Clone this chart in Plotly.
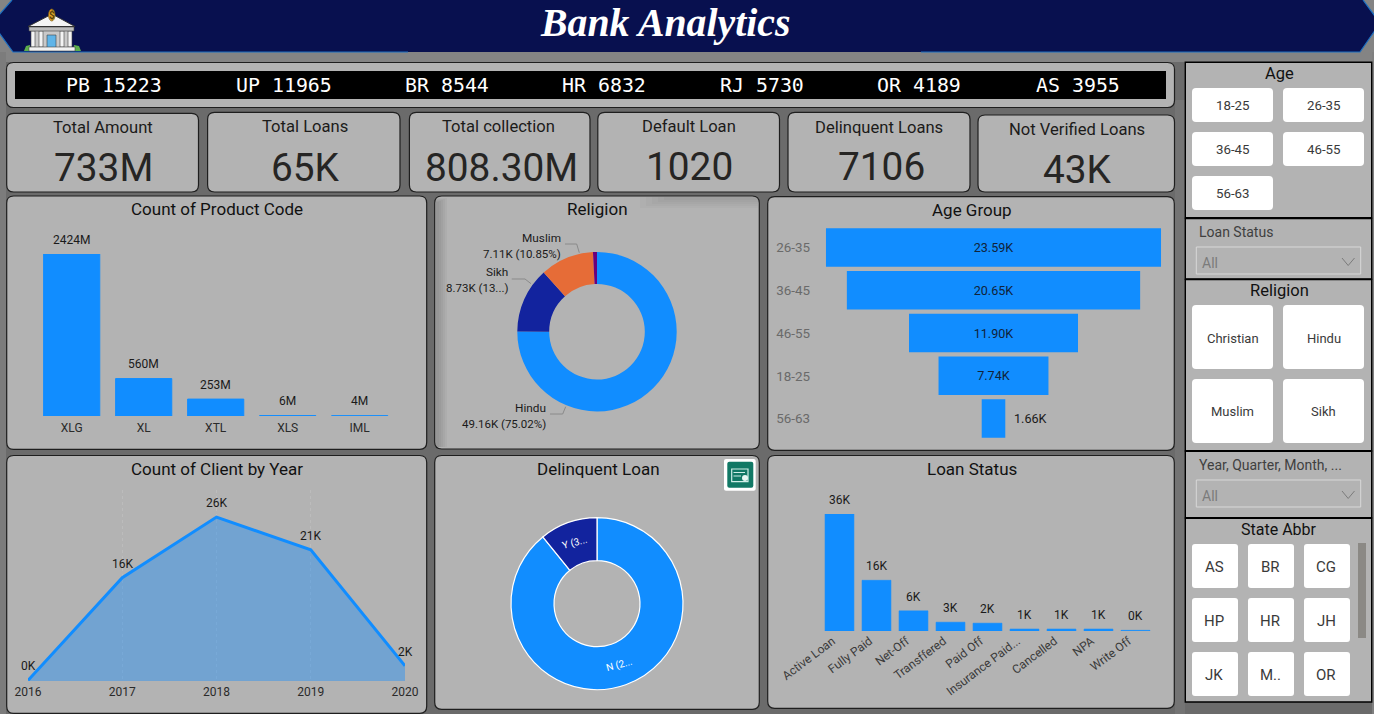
import plotly.graph_objects as go

# ---------- data ----------
ticker_states = ["PB", "UP", "BR", "HR", "RJ", "OR", "AS"]
ticker_values = [15223, 11965, 8544, 6832, 5730, 4189, 3955]
kpi_titles = ["Total Amount", "Total Loans", "Total collection", "Default Loan", "Delinquent Loans", "Not Verified Loans"]
kpi_values = ["733M", "65K", "808.30M", "1020", "7106", "43K"]
product_codes = ["XLG", "XL", "XTL", "XLS", "IML"]
product_counts = [2424, 560, 253, 6, 4]
religion_order = ["Hindu", "Sikh", "Muslim", "Christian"]
religion_counts = [49.16, 8.73, 7.11, 0.53]
religion_labels = {"Hindu": "49.16K (75.02%)", "Sikh": "8.73K (13...)", "Muslim": "7.11K (10.85%)"}
age_groups = ["26-35", "36-45", "46-55", "18-25", "56-63"]
age_counts = [23.59, 20.65, 11.90, 7.74, 1.66]
years = [2016, 2017, 2018, 2019, 2020]
year_clients = [0.1, 16.4, 26.0, 20.8, 2.4]
delinquent_flags = ["N", "Y"]
delinquent_counts = [58.42, 7.11]
delinquent_texts = ["N (2...", "Y (3..."]
status_names = ["Active Loan", "Fully Paid", "Net-Off", "Transffered", "Paid Off", "Insurance Paid...", "Cancelled", "NPA", "Write Off"]
status_counts = [36.0, 15.6, 6.2, 2.7, 2.4, 0.6, 0.6, 0.6, 0.2]
age_buttons = ["18-25", "26-35", "36-45", "46-55", "56-63"]
religion_buttons = ["Christian", "Hindu", "Muslim", "Sikh"]
state_buttons = ["AS", "BR", "CG", "HP", "HR", "JH", "JK", "M..", "OR"]

# ---------- styles and helpers ----------
W, H = 1374, 714
BLUE = "#118DFF"
NAVY = "#12239E"
ORANGE = "#E66C37"
PURPLE = "#6B007B"
CARD = "#B3B3B3"
INK = "#1C1B1A"
LABEL = "#1A1A1A"
FONT = "Roboto"


def X(p):
    return p / W


def Y(p):
    return 1 - p / H


shapes, annots = [], []


def poly(points, fill="rgba(0,0,0,0)", line=None, lw=1, close=True):
    d = "M " + " L ".join(f"{X(a):.6f},{Y(b):.6f}" for a, b in points) + (" Z" if close else "")
    shapes.append(dict(type="path", xref="paper", yref="paper", path=d, fillcolor=fill,
                       line=dict(color=line or "rgba(0,0,0,0)", width=lw if line else 0), layer="below"))


def rrect(x0, y0, x1, y1, r=6, fill=CARD, line="#1E1E1E", lw=1.2):
    c = lambda a, b: f"{X(a):.6f},{Y(b):.6f}"
    d = (f"M {c(x0 + r, y0)} L {c(x1 - r, y0)} Q {c(x1, y0)} {c(x1, y0 + r)} "
         f"L {c(x1, y1 - r)} Q {c(x1, y1)} {c(x1 - r, y1)} L {c(x0 + r, y1)} "
         f"Q {c(x0, y1)} {c(x0, y1 - r)} L {c(x0, y0 + r)} Q {c(x0, y0)} {c(x0 + r, y0)} Z")
    shapes.append(dict(type="path", xref="paper", yref="paper", path=d, fillcolor=fill,
                       line=dict(color=line or "rgba(0,0,0,0)", width=lw if line else 0), layer="below"))


def rect(x0, y0, x1, y1, fill, line=None, lw=1):
    shapes.append(dict(type="rect", xref="paper", yref="paper", x0=X(x0), x1=X(x1), y0=Y(y0), y1=Y(y1),
                       fillcolor=fill, line=dict(color=line or "rgba(0,0,0,0)", width=lw if line else 0),
                       layer="below"))


def circle(cx, cy, r, fill):
    shapes.append(dict(type="circle", xref="paper", yref="paper", x0=X(cx - r), x1=X(cx + r), y0=Y(cy - r),
                       y1=Y(cy + r), fillcolor=fill, line=dict(width=0), layer="below"))


def text(x, y, s, size=16, color=INK, anchor="center", family=FONT, weight=400, angle=0):
    annots.append(dict(x=X(x), y=Y(y), xref="paper", yref="paper", text=s, showarrow=False, xanchor=anchor,
                       yanchor="middle", textangle=angle, borderpad=0, borderwidth=0,
                       font=dict(size=size, color=color, family=family, weight=weight)))


def data_label(xref, yref, x, y, s, yshift=14, xshift=0, anchor="center", size=12):
    annots.append(dict(x=x, y=y, xref=xref, yref=yref, text=s, showarrow=False, xanchor=anchor, yanchor="middle",
                       yshift=yshift, xshift=xshift, borderpad=0, borderwidth=0,
                       font=dict(size=size, color=LABEL, family=FONT)))


# ---------- page background ----------
rect(0, 0, W, 62, "#848484")
rect(0, 52, 6, H, "#7C7C7C")
rect(1372, 52, W, H, "#808080")
rect(1175, 100, 1185, H, "#747474")

# ---------- header ----------
poly([(12, 0), (-8, 23), (13, 52), (1360, 52), (1380, 23), (1363, 0)], fill="#08104F")
poly([(12, 0), (-8, 23), (13, 52), (408, 52)], fill="rgba(0,0,0,0)", line="#1B6FC2", lw=1.2, close=False)
poly([(921, 52), (1360, 52), (1380, 23), (1363, 0)], fill="rgba(0,0,0,0)", line="#1B6FC2", lw=1.2, close=False)
text(665.5, 23, "<b><i>Bank Analytics</i></b>", size=39.8, color="#FFFFFF", family="Liberation Serif")

# bank icon
poly([(24, 51), (26, 46), (30, 45), (31, 51)], fill="#5DAE4B")
poly([(73, 51), (74, 45), (79, 46), (81, 51)], fill="#5DAE4B")
rect(32, 30, 71, 49, "#C9C9C9")
for a, b in [(31, 35), (39, 43), (60, 64), (68, 72)]:
    rect(a, 31, b, 47, "#F4F4F4", line="#444444", lw=0.6)
rect(47, 35, 56, 49, "#5FB4E8", line="#444444", lw=0.6)
rect(29, 47, 75, 51, "#F2F2F2", line="#444444", lw=0.6)
rect(29, 27, 74, 31, "#BDBDBD", line="#444444", lw=0.6)
poly([(28, 26.5), (52, 14), (75, 26.5)], fill="#F4F4F4", line="#333333", lw=1)
shapes.append(dict(type="circle", xref="paper", yref="paper", x0=X(48.5), x1=X(55), y0=Y(21), y1=Y(9),
                   fillcolor="#E3A82B", line=dict(color="#7A5A12", width=0.7), layer="below"))
text(51.7, 15, "$", size=10, color="#5A420C", weight=700)

# ---------- ticker ----------
rrect(6.5, 62.5, 1174.5, 107.5, r=7)
rect(15, 71, 1166, 99, "#000000")
for cx, st, val in zip([114, 284, 447, 604, 762, 919, 1078], ticker_states, ticker_values):
    text(cx, 85, f"{st} {val}", size=19.9, color="#FFFFFF", family="DejaVu Sans Mono")

# ---------- KPI cards ----------
kpi_boxes = [(6.7, 113.3, 198.5), (207.6, 112.3, 400), (409.4, 112.3, 590), (597.8, 112.3, 779.5),
             (788, 112.3, 970), (978, 115, 1174.5)]
kpi_title_pos = [(103, 127.5), (305, 126.5), (499, 126.5), (689, 126), (879, 127), (1077, 129)]
kpi_value_pos = [(103, 167), (305, 167), (501, 167), (689, 166), (881, 166), (1077, 169)]
for box, t, v, tp, vp in zip(kpi_boxes, kpi_titles, kpi_values, kpi_title_pos, kpi_value_pos):
    rrect(box[0], box[1], box[2], 192, r=7)
    text(tp[0], tp[1], t, size=16.6)
    text(vp[0], vp[1], v, size=38.8, color="#262524")

# ---------- chart panels ----------
panels = [
    (6.7, 196, 426.7, 449.3, "Count of Product Code", 217, 209),
    (434.7, 196, 759.3, 449, "Religion", 597, 209),
    (767.7, 196.7, 1174.3, 450.3, "Age Group", 972, 210),
    (6.7, 455.5, 426.7, 713.3, "Count of Client by Year", 217, 469),
    (434.7, 455.5, 759.3, 709.3, "Delinquent Loan", 598, 469),
    (767.7, 455.5, 1174.3, 708.3, "Loan Status", 972, 469),
]
for x0, y0, x1, y1, title, tx, ty in panels:
    rrect(x0, y0, x1, y1, r=7)
    text(tx, ty, title, size=17, color="#111111")

# soft inner shadow on the Religion card
for i in range(5):
    rect(436, 198 + i, 437 + 2 * (5 - i), 447, "rgba(0,0,0,0.03)")
    rect(640 + 6 * i, 197, 758, 198 + 2 * (5 - i), "rgba(0,0,0,0.018)")

# ---------- slicers ----------
slicer_bands = [(62.3, 217.7), (218.5, 279), (279.5, 450.7), (451.3, 517.7), (518.3, 702)]
for a, b in slicer_bands:
    rect(1185.3, a, 1371.7, b, CARD, line="#000000", lw=1.4)

text(1279, 74, "Age", size=16.5, color="#111111")
age_rects = [(1192, 88), (1283, 88), (1192, 132), (1283, 132), (1192, 176)]
for (bx, by), lab in zip(age_rects, age_buttons):
    rrect(bx, by, bx + 81, by + 34, r=4, fill="#FFFFFF", line=None)
    text(bx + 40.5, by + 17.5, lab, size=13.3, color="#3A3A3A")

text(1279, 290, "Religion", size=16.5, color="#111111")
rel_rects = [(1192, 305), (1283, 305), (1192, 379), (1283, 379)]
for (bx, by), lab in zip(rel_rects, religion_buttons):
    rrect(bx, by, bx + 81, by + 64, r=4, fill="#FFFFFF", line=None)
    text(bx + 40.5, by + 33, lab, size=13, color="#3A3A3A")

text(1279, 529, "State Abbr", size=16, color="#111111")
state_rects = [(a, b) for b in (544, 598, 652) for a in (1192, 1248, 1304)]
for (bx, by), lab in zip(state_rects, state_buttons):
    rrect(bx, by, bx + 46, by + 44, r=3, fill="#FFFFFF", line=None)
    text(bx + 22, by + 22.5, lab, size=15, color="#3A3A3A")
rect(1358, 543, 1366, 638, "#8B8985")

for ty, by, lab in [(232, 247, "Loan Status"), (465, 480, "Year, Quarter, Month, ...")]:
    text(1199, ty, lab, size=14, color="#404040", anchor="left")
    rect(1196.3, by, 1360.7, by + 27, "rgba(0,0,0,0)", line="#D8D8D8", lw=1)
    text(1202, by + 15.5, "All", size=14, color="#7B7B7B", anchor="left")
    poly([(1342, by + 11), (1348.2, by + 18.5), (1354.5, by + 11)], line="#7B7B7B", lw=1, close=False)

# ---------- traces ----------
fig = go.Figure()

# product bars
fig.add_trace(go.Bar(x=product_codes, y=product_counts, xaxis="x", yaxis="y",
                     marker=dict(color=BLUE, line=dict(color=BLUE, width=1)), cliponaxis=False))
for c, v in zip(product_codes, product_counts):
    data_label("x", "y", c, v, f"{v}M", yshift=14.5)

# age funnel
inside_text = [f"{v:.2f}K" if v > 5 else "" for v in age_counts]
fig.add_trace(go.Funnel(y=age_groups, x=age_counts, orientation="h", xaxis="x2", yaxis="y2",
                        marker=dict(color=BLUE, line=dict(width=0)), connector=dict(visible=False),
                        text=inside_text, textinfo="text", textposition="inside",
                        constraintext="none", cliponaxis=False,
                        insidetextfont=dict(size=12.6, color="#10233A", family=FONT)))
for g, v in zip(age_groups, age_counts):
    if v <= 5:
        data_label("x2", "y2", v / 2, g, f"{v:.2f}K", yshift=0, xshift=9, anchor="left", size=12.6)

# year area
fig.add_trace(go.Scatter(x=years, y=year_clients, xaxis="x3", yaxis="y3", mode="lines", cliponaxis=False,
                         line=dict(color=BLUE, width=3), fill="tozeroy", fillcolor="rgba(17,141,255,0.4)"))
for yr, v in zip(years, year_clients):
    data_label("x3", "y3", yr, v, f"{v:.0f}K", yshift=14)

# status bars
fig.add_trace(go.Bar(x=status_names, y=status_counts, xaxis="x4", yaxis="y4",
                     marker=dict(color=BLUE, line=dict(color=BLUE, width=0.6)), cliponaxis=False))
for s, v in zip(status_names, status_counts):
    data_label("x4", "y4", s, v, f"{v:.0f}K", yshift=14)


def pie_domain(cx, cy, r):
    return dict(x=[X(cx - r), X(cx + r)], y=[Y(cy + r), Y(cy - r)])


fig.add_trace(go.Pie(labels=religion_order, values=religion_counts, hole=0.6, sort=False, direction="clockwise",
                     rotation=0, textinfo="none", domain=pie_domain(597, 331.7, 79.7),
                     marker=dict(colors=[BLUE, NAVY, ORANGE, PURPLE], line=dict(width=0))))
fig.add_trace(go.Pie(labels=delinquent_flags, values=delinquent_counts, hole=0.5, sort=False, direction="clockwise",
                     rotation=0, textinfo="none", domain=pie_domain(597, 603.7, 86),
                     marker=dict(colors=[BLUE, NAVY], line=dict(color="#FFFFFF", width=1.2))))

# religion labels
rel_pos = {"Muslim": (561, 237.7, 253.7), "Sikh": (508, 271.7, 288), "Hindu": (546, 407.7, 423.7)}
for name, (ex, y1, y2) in rel_pos.items():
    text(ex, y1, name, size=11.8, color=LABEL, anchor="right")
    text(ex, y2, religion_labels[name], size=11.5, color=LABEL, anchor="right")
poly([(565, 244), (576.7, 244), (579.3, 252.7)], line="#8A8A8A", lw=1, close=False)
poly([(511.7, 279), (525, 279), (531, 283.7)], line="#8A8A8A", lw=1, close=False)
poly([(550, 414), (562.7, 414), (565.7, 406.7)], line="#8A8A8A", lw=1, close=False)

# delinquent labels
text(619, 665, delinquent_texts[0], size=10, color="#FFFFFF", angle=-15)
text(574, 543, delinquent_texts[1], size=10, color="#FFFFFF", angle=-15)

# certificate icon
rrect(724, 459, 755.7, 490.7, r=2, fill="#FFFFFF", line=None)
rrect(727.3, 461.7, 753.3, 487.7, r=2, fill="#117865", line=None)
rect(731.7, 469, 748, 481.7, "rgba(0,0,0,0)", line="#CFEDE7", lw=1.2)
rect(733.5, 472, 745, 473, "#CFEDE7")
rect(733.5, 475.5, 741, 476.5, "#CFEDE7")
circle(745, 478, 3, "#E6F7F3")

# ---------- axes ----------
blank = dict(visible=False, fixedrange=True)
cat_font = dict(size=12, color="#2A2A2A", family=FONT)
layout_axes = dict(
    xaxis=dict(domain=[X(35.7), X(395.7)], range=[-0.5, 4.5], type="category", anchor="y", showgrid=False,
               zeroline=False, showline=False, ticks="", tickfont=cat_font, fixedrange=True, ticklabelstandoff=3),
    yaxis=dict(domain=[Y(416), Y(254)], range=[0, 2424], anchor="x", **blank),
    xaxis2=dict(domain=[X(811), X(1176)], range=[-12.85, 12.85], anchor="y2", **blank),
    yaxis2=dict(domain=[Y(440), Y(226)], type="category", range=[4.5, -0.5], anchor="x2", showgrid=False,
                zeroline=False, showline=False, ticks="", tickfont=dict(size=13.4, color="#6A6A6A", family=FONT),
                fixedrange=True),
    xaxis3=dict(domain=[X(28), X(405)], range=[2016, 2020], tickvals=years, anchor="y3", showgrid=True,
                griddash="dot", gridcolor="#BCBCBC", gridwidth=1, zeroline=False, showline=False, ticks="",
                tickfont=cat_font, fixedrange=True, ticklabelstandoff=2),
    yaxis3=dict(domain=[Y(681), Y(490)], range=[0, 30.3], anchor="x3", **blank),
    xaxis4=dict(domain=[X(821), X(1154)], range=[-0.5, 8.5], type="category", anchor="y4", showgrid=False,
                zeroline=False, showline=False, ticks="", tickangle=-37, ticklabelshift=-7,
                tickfont=dict(size=12, color="#3A3A3A", family=FONT), fixedrange=True),
    yaxis4=dict(domain=[Y(631), Y(514)], range=[0, 36], anchor="x4", **blank),
)

fig.update_layout(width=W, height=H, margin=dict(l=0, r=0, t=0, b=0, pad=0, autoexpand=False), autosize=False,
                  paper_bgcolor="#6B6B6B", plot_bgcolor="rgba(0,0,0,0)", showlegend=False,
                  bargap=0.22, funnelgap=0.1, font=dict(family=FONT), shapes=shapes, annotations=annots,
                  **layout_axes)

fig.write_html("out.html", config={"displayModeBar": False},
               post_script="document.body.style.margin='0';document.body.style.overflow='hidden';")
